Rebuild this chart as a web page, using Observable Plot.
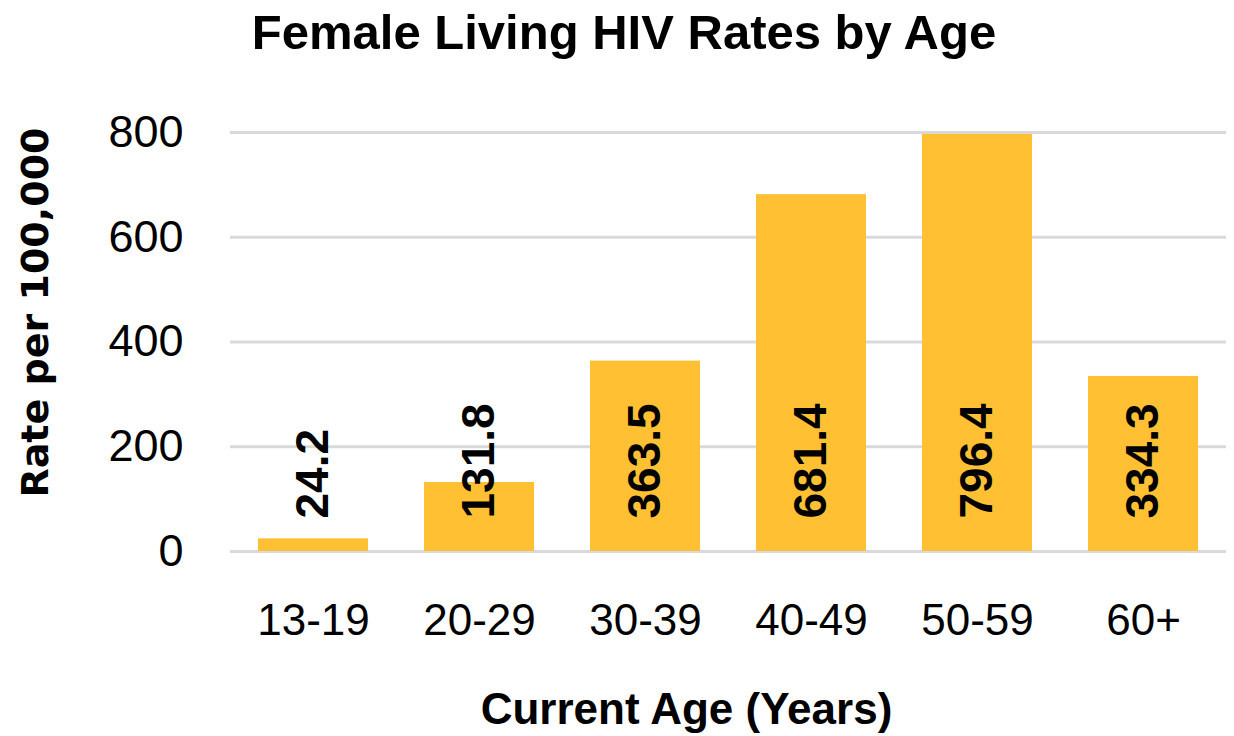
<!DOCTYPE html>
<html>
<head>
<meta charset="utf-8">
<script src="https://cdn.jsdelivr.net/npm/d3@7"></script>
<script src="https://cdn.jsdelivr.net/npm/@observablehq/plot@0.6"></script>
<style>
  html, body { margin: 0; padding: 0; background: #fff; }
  #title {
    height: 70px; line-height: 64px; text-align: center;
    font-family: "Liberation Sans", Arial, sans-serif; font-weight: bold;
    font-size: 49px; color: #000; padding-left: 14px; box-sizing: border-box; width: 1234px;
  }
  #chart svg { display: block; }
</style>
</head>
<body>
<div id="title">Female Living HIV Rates by Age</div>
<div id="chart"></div>
<script>
const ageGroups = ["13-19", "20-29", "30-39", "40-49", "50-59", "60+"];
const rates = [24.2, 131.8, 363.5, 681.4, 796.4, 334.3];
const yTicks = [0, 200, 400, 600, 800];
const yLabel = "Rate per 100,000";
const xLabel = "Current Age (Years)";

const data = ageGroups.map((a, i) => ({age: a, rate: rates[i]}));

const chart = Plot.plot({
  width: 1234,
  height: 666,
  marginLeft: 230,
  marginRight: 8,
  marginTop: 62,
  marginBottom: 185,
  style: {background: "#fff", color: "#000", overflow: "visible"},
  x: {domain: ageGroups, paddingInner: 0.34, paddingOuter: 0.17, label: null},
  y: {domain: [0, 800], label: null},
  marks: [
    Plot.gridY(yTicks, {stroke: "#d9d9d9", strokeWidth: 3, strokeOpacity: 1}),
    Plot.barY(data, {x: "age", y: "rate", fill: "#FFC133"}),
    Plot.axisY(yTicks, {tickSize: 0, tickPadding: 47, fontSize: 45, fontFamily: "Liberation Sans, Arial, sans-serif", label: null}),
    Plot.axisX({tickSize: 0, tickPadding: 52, fontSize: 44, fontFamily: "Liberation Sans, Arial, sans-serif", label: null}),
    Plot.text(data, {x: "age", y: () => 0, text: d => d.rate.toFixed(1), rotate: -90, textAnchor: "start", dy: -33,
      fontSize: 46, fontWeight: "bold", fontFamily: "Liberation Sans, Arial, sans-serif", fill: "#000"}),
    Plot.text([yLabel], {frameAnchor: "left", textAnchor: "middle", rotate: -90, dx: -195, dy: -29.5, text: d => d,
      fontSize: 38, fontWeight: "bold", fontFamily: "DejaVu Sans, sans-serif", fill: "#000"}),
    Plot.text([xLabel], {frameAnchor: "bottom", lineAnchor: "top", textAnchor: "middle", dx: -42, dy: 141, text: d => d,
      fontSize: 44, fontWeight: "bold", fontFamily: "Liberation Sans, Arial, sans-serif", fill: "#000"})
  ]
});
document.getElementById("chart").appendChild(chart);
</script>
</body>
</html>
